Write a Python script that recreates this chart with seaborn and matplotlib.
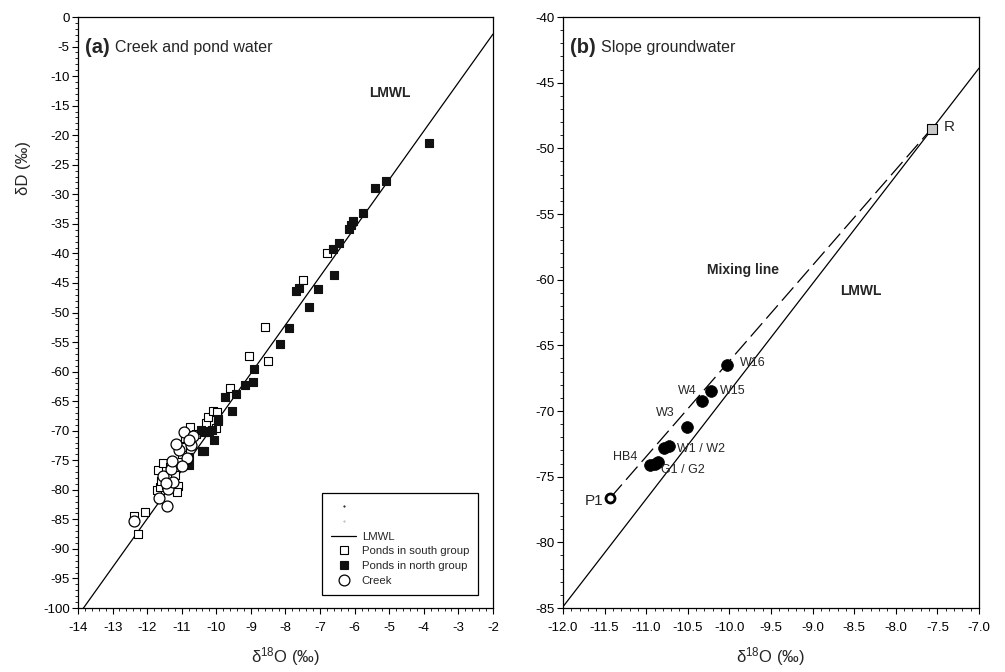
import numpy as np
import pandas as pd
import matplotlib
matplotlib.use("Agg")
import matplotlib.pyplot as plt
import seaborn as sns
from matplotlib.lines import Line2D
from matplotlib.ticker import MultipleLocator, FormatStrFormatter

# ---------------- data: panel (a) ----------------
south_d18o = [-12.26, -12.06, -12.38, -11.68, -11.53, -11.71, -11.63, -11.10, -11.13,
              -10.76, -10.30, -10.23, -10.10, -9.99, -10.00, -9.60, -9.05, -8.60,
              -8.50, -7.50, -6.80, -11.00, -10.90, -11.35, -11.60, -11.20, -10.60,
              -11.00, -11.45]
south_dD = [-87.4, -83.8, -84.5, -76.6, -75.5, -80.0, -79.6, -79.4, -80.4,
            -69.3, -68.7, -67.7, -66.7, -66.9, -69.6, -62.8, -57.3, -52.5,
            -58.2, -44.5, -40.0, -74.0, -71.2, -76.2, -78.5, -77.5, -70.6,
            -72.8, -79.2]

north_d18o = [-10.78, -10.83, -10.78, -10.35, -10.06, -10.43, -10.28, -10.13, -9.94,
              -9.54, -9.75, -9.43, -9.17, -8.93, -8.90, -8.16, -7.89, -7.31,
              -7.70, -7.60, -7.07, -6.60, -6.62, -6.45, -6.15, -6.10, -6.05,
              -5.75, -5.41, -5.10, -3.84, -10.40, -10.20, -9.95, -10.35]
north_dD = [-75.8, -75.0, -74.4, -73.4, -71.5, -69.9, -70.2, -69.9, -68.3,
            -66.6, -64.3, -63.8, -62.3, -61.7, -59.6, -55.3, -52.6, -49.0,
            -46.4, -45.8, -46.1, -43.6, -39.3, -38.3, -35.9, -35.2, -34.6,
            -33.1, -28.9, -27.7, -21.4, -73.5, -70.0, -68.0, -70.3]

creek_d18o = [-12.38, -11.42, -11.65, -11.39, -11.26, -11.53, -11.31, -11.29, -11.07,
              -11.17, -10.74, -10.93, -10.67, -10.85, -11.00, -11.45, -10.80]
creek_dD = [-85.3, -82.7, -81.4, -79.9, -78.6, -77.7, -76.5, -75.2, -73.3,
            -72.3, -72.4, -70.2, -70.9, -74.6, -76.0, -78.8, -71.5]

# LMWL: dD = slope * d18O + intercept
lmwl_slope = 8.2
lmwl_intercept = 13.5
lmwl_range_a = [-14.0, -2.0]
lmwl_range_b = [-12.0, -7.0]

# ---------------- data: panel (b) ----------------
well_names = ["W16", "W15", "W4", "W3", "W1", "W2", "HB4", "G1", "G2"]
well_d18o = [-10.03, -10.22, -10.33, -10.51, -10.79, -10.73, -10.95, -10.90, -10.86]
well_dD = [-66.5, -68.5, -69.2, -71.2, -72.8, -72.7, -74.1, -74.0, -73.9]

p1_d18o, p1_dD = -11.43, -76.6
r_d18o, r_dD = -7.57, -48.5

# ---------------- style ----------------
sns.set_style("ticks")
plt.rcParams["font.family"] = ["Liberation Sans", "DejaVu Sans"]
plt.rcParams["mathtext.fontset"] = "custom"
plt.rcParams["mathtext.rm"] = "Liberation Sans"
plt.rcParams["mathtext.it"] = "Liberation Sans:italic"
plt.rcParams["mathtext.bf"] = "Liberation Sans:bold"
plt.rcParams["axes.unicode_minus"] = False

fig = plt.figure(figsize=(10.05, 6.72), dpi=100)
axa = fig.add_axes([0.0776, 0.0952, 0.4129, 0.8795])
axb = fig.add_axes([0.5602, 0.0952, 0.4139, 0.8795])

for ax in (axa, axb):
    for sp in ax.spines.values():
        sp.set_linewidth(0.9)
        sp.set_color("black")
    ax.tick_params(which="major", length=4, width=0.8, direction="out",
                   labelsize=9.5, colors="black", top=False, right=False)
    ax.tick_params(which="minor", length=2.3, width=0.7, direction="out",
                   top=False, right=False)
    ax.tick_params(axis="x", which="major", pad=6)
    ax.tick_params(axis="y", which="major", pad=2)
    ax.set_facecolor("white")

# ---------------- panel (a) ----------------
xa = np.array(lmwl_range_a)
sns.lineplot(x=xa, y=lmwl_slope * xa + lmwl_intercept, color="black", lw=0.9,
             ax=axa, zorder=1)
sns.scatterplot(x=south_d18o, y=south_dD, marker="s", color="white",
                edgecolor="black", linewidth=0.8, s=34, ax=axa, zorder=3)
sns.scatterplot(x=north_d18o, y=north_dD, marker="s", color="#111111",
                edgecolor="#111111", linewidth=0.8, s=34, ax=axa, zorder=3)
sns.scatterplot(x=creek_d18o, y=creek_dD, marker="o", color="white",
                edgecolor="black", linewidth=0.9, s=62, ax=axa, zorder=4)

axa.set_xlim(-14, -2)
axa.set_ylim(-100, 0)
axa.xaxis.set_major_locator(MultipleLocator(1))
axa.xaxis.set_minor_locator(MultipleLocator(0.2))
axa.yaxis.set_major_locator(MultipleLocator(5))
axa.yaxis.set_minor_locator(MultipleLocator(1))
axa.set_xlabel("δ$^{\\mathrm{18}}$O (‰)", fontsize=12, labelpad=8)
axa.set_ylabel("δD (‰)", fontsize=12)
axa.yaxis.set_label_coords(-0.113, 0.745)

ta = axa.text(0.017, 0.948, "(a)", transform=axa.transAxes, fontsize=14.5,
              fontweight="bold", va="center", ha="left")
axa.annotate("Creek and pond water", xy=(1, 0.5), xycoords=ta,
             xytext=(4, 0), textcoords="offset points",
             fontsize=11.5, va="center", ha="left")
axa.text(-4.98, -12.9, "LMWL", fontsize=10, fontweight="bold",
         ha="center", va="center")

handles = [
    Line2D([], [], ls="none", marker=".", ms=1, color="black"),
    Line2D([], [], ls="none", marker=".", ms=0.6, color="gray"),
    Line2D([], [], color="black", lw=0.9),
    Line2D([], [], ls="none", marker="s", ms=5.8, mfc="white", mec="black", mew=0.8),
    Line2D([], [], ls="none", marker="s", ms=5.8, mfc="#111111", mec="#111111", mew=0.8),
    Line2D([], [], ls="none", marker="o", ms=7.8, mfc="white", mec="black", mew=0.9),
]
labels = [" ", " ", "LMWL", "Ponds in south group", "Ponds in north group", "Creek"]
leg = axa.legend(handles, labels, loc="lower left", bbox_to_anchor=(0.588, 0.022),
                 frameon=True, fancybox=False, framealpha=1, edgecolor="black",
                 fontsize=8.2, handlelength=2.2, handletextpad=0.5,
                 labelspacing=0.42, borderpad=0.8, borderaxespad=0)
leg.get_frame().set_linewidth(0.9)

# ---------------- panel (b) ----------------
xb = np.array(lmwl_range_b)
sns.lineplot(x=xb, y=lmwl_slope * xb + lmwl_intercept, color="black", lw=0.9,
             ax=axb, zorder=1)
sns.lineplot(x=[p1_d18o, r_d18o], y=[p1_dD, r_dD], color="black", lw=0.9,
             dashes=(14, 5), ax=axb, zorder=1)
sns.scatterplot(x=well_d18o, y=well_dD, marker="o", color="black",
                edgecolor="black", linewidth=0.5, s=72, ax=axb, zorder=3)
sns.scatterplot(x=[p1_d18o], y=[p1_dD], marker="o", color="white",
                edgecolor="black", linewidth=2.0, s=42, ax=axb, zorder=3)
sns.scatterplot(x=[r_d18o], y=[r_dD], marker="s", color="#c8c8c8",
                edgecolor="black", linewidth=0.8, s=50, ax=axb, zorder=3)

axb.set_xlim(-12, -7)
axb.set_ylim(-85, -40)
axb.xaxis.set_major_locator(MultipleLocator(0.5))
axb.xaxis.set_minor_locator(MultipleLocator(0.1))
axb.xaxis.set_major_formatter(FormatStrFormatter("%.1f"))
axb.yaxis.set_major_locator(MultipleLocator(5))
axb.yaxis.set_minor_locator(MultipleLocator(1))
axb.set_xlabel("δ$^{\\mathrm{18}}$O (‰)", fontsize=12, labelpad=8)

tb = axb.text(0.017, 0.948, "(b)", transform=axb.transAxes, fontsize=14.5,
              fontweight="bold", va="center", ha="left")
axb.annotate("Slope groundwater", xy=(1, 0.5), xycoords=tb,
             xytext=(4, 0), textcoords="offset points",
             fontsize=11.5, va="center", ha="left")

lab_fs = 9
axb.text(-9.87, -66.35, "W16", fontsize=lab_fs, ha="left", va="center")
axb.text(-10.39, -68.46, "W4", fontsize=lab_fs, ha="right", va="center")
axb.text(-10.11, -68.46, "W15", fontsize=lab_fs, ha="left", va="center")
axb.text(-10.77, -70.16, "W3", fontsize=lab_fs, ha="center", va="center")
axb.text(-10.63, -72.9, "W1 / W2", fontsize=lab_fs, ha="left", va="center")
axb.text(-11.11, -73.49, "HB4", fontsize=lab_fs, ha="right", va="center")
axb.text(-10.82, -74.5, "G1 / G2", fontsize=lab_fs, ha="left", va="center")
axb.text(-11.52, -76.85, "P1", fontsize=11, ha="right", va="center")
axb.text(-7.42, -48.4, "R", fontsize=11, ha="left", va="center")
axb.text(-9.84, -59.3, "Mixing line", fontsize=10, fontweight="bold",
         ha="center", va="center")
axb.text(-8.42, -60.9, "LMWL", fontsize=10, fontweight="bold",
         ha="center", va="center")

fig.savefig("out.png", dpi=100, facecolor="white")
